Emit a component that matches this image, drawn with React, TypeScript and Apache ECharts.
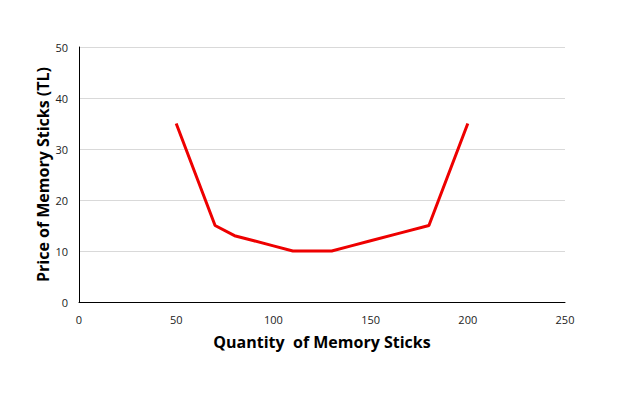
import React, { useEffect, useRef } from "react";
import * as echarts from "echarts";

const quantities = [50, 70, 80, 90, 100, 110, 130, 140, 150, 165, 180, 200];
const prices = [35, 15, 13, 12, 11, 10, 10, 11, 12, 13.5, 15, 35];
const xTitle = "Quantity  of Memory Sticks";
const yTitle = "Price of Memory Sticks (TL)";

export default function App() {
  const ref = useRef<HTMLDivElement>(null);
  useEffect(() => {
    if (!ref.current) return;
    const chart = echarts.init(ref.current, undefined, { renderer: "svg" });
    const font = "'Open Sans', 'Noto Sans', sans-serif";
    chart.setOption({
      animation: false,
      backgroundColor: "#ffffff",
      grid: { left: 79, right: 73, top: 47, bottom: 100 },
      xAxis: {
        type: "value",
        min: 0,
        max: 250,
        interval: 50,
        name: xTitle,
        nameLocation: "middle",
        nameGap: 32,
        nameTextStyle: { fontFamily: font, fontSize: 16, fontWeight: "bold", color: "#000" },
        axisLine: { show: true, lineStyle: { color: "#000", width: 1 } },
        axisTick: { show: false },
        splitLine: { show: false },
        axisLabel: { fontFamily: font, fontSize: 11, color: "#222", margin: 12 },
      },
      yAxis: {
        type: "value",
        min: 0,
        max: 50,
        interval: 10,
        name: yTitle,
        nameLocation: "middle",
        nameGap: 28,
        nameMoveOverlap: false,
        nameTextStyle: { fontFamily: font, fontSize: 16, fontWeight: "bold", color: "#000" },
        axisLine: { show: true, lineStyle: { color: "#000", width: 1 } },
        axisTick: { show: false },
        splitLine: { show: true, lineStyle: { color: "#d9d9d9", width: 1 } },
        axisLabel: { fontFamily: font, fontSize: 11, color: "#222", margin: 11 },
      },
      series: [
        {
          type: "line",
          data: quantities.map((q, i) => [q, prices[i]]),
          showSymbol: false,
          lineStyle: { color: "#ee0000", width: 3 },
          itemStyle: { color: "#ee0000" },
        },
      ],
    });
    return () => chart.dispose();
  }, []);
  return <div ref={ref} style={{ width: 638, height: 402, position: "absolute", left: 0, top: 0 }} />;
}
